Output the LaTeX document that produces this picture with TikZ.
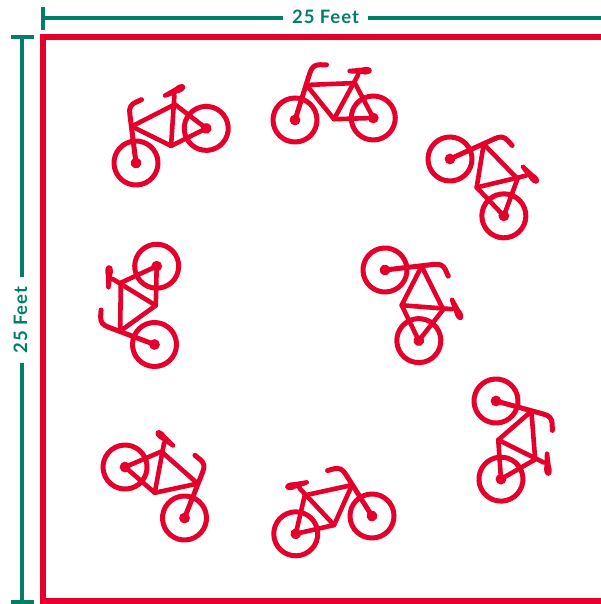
\documentclass[tikz,border=0pt]{standalone}
\usepackage{fontspec}
\setmainfont{Lato}[BoldFeatures={LetterSpace=5}]
\definecolor{bikered}{HTML}{E4002B}
\definecolor{dimgreen}{HTML}{007F66}
\tikzset{
  x=1pt,y=1pt,
  frameline/.style={draw=bikered,line width=5.6pt},
  dimline/.style={draw=dimgreen,line width=4pt},
  dimlabel/.style={text=dimgreen,font=\fontsize{18.5}{19}\selectfont\bfseries,inner sep=0pt},
  wheel/.style={draw=bikered,line width=5pt},
  bikebar/.style={draw=bikered,line width=5pt,line cap=round,line join=round},
  bikeframe/.style={draw=bikered,line width=4.6pt,line cap=round,line join=round},
}
% F hub x,y ; R hub x,y (image pixels); yscale sign
\newcommand{\bikeat}[5]{%
  \pgfmathsetmacro{\bikeang}{atan2(-(#4-#2),#3-#1)}%
  \begin{scope}[shift={(#1,604-#2)},rotate=\bikeang,yscale=#5]
    \draw[wheel] (0,0) circle (22);
    \draw[wheel] (78.3,0) circle (22);
    \fill[bikered] (0,0) circle (5.4);
    \fill[bikered] (78.3,0) circle (5.4);
    \draw[bikebar] (0,0) -- (16,46.4) .. controls (18,52.5) and (21,54.6) .. (26,54.6) -- (32.9,54.4);
    \draw[bikeframe] (12.4,34.7) -- (60.8,35.4) -- (78.3,0) -- (39,-.2) -- cycle;
    \draw[bikeframe] (39,-.2) -- (64.3,43.6);
    \fill[bikered] (53.5,47.6) .. controls (53.5,45.8) and (55,45.2) .. (58,45)
       -- (68,44.2) .. controls (72,42.8) and (78,43.8) .. (78,47.6)
       .. controls (78,51.4) and (72,52) .. (68,50.6) -- (55,49.8)
       .. controls (54,49.6) and (53.5,48.8) .. (53.5,47.6) -- cycle;
  \end{scope}}
\begin{document}
\begin{tikzpicture}
  \useasboundingbox (0,0) rectangle (601,604);
  % frame
  \draw[frameline] (601,2.8) -- (42.7,2.8) -- (42.7,567) -- (601,567);
  % horizontal dimension
  \node[dimlabel] (toplabel) at (325.5,587.5) {25 Feet};
  \coordinate (hl) at (43,586);
  \coordinate (hr) at (601,586);
  \coordinate (hgapl) at (283,586);
  \coordinate (hgapr) at (368,586);
  \draw[dimline] (hl) -- (hgapl);
  \draw[dimline] (hgapr) -- (hr);
  \coordinate (htt) at (43,597);
  \coordinate (htb) at (43,574);
  \draw[dimline] (htt) -- (htb);
  % vertical dimension
  \node[dimlabel,rotate=90] (leftlabel) at (20.5,284) {25 Feet};
  \coordinate (vt) at (22,567);
  \coordinate (vb) at (22,2);
  \coordinate (vgapt) at (22,327);
  \coordinate (vgapb) at (22,241);
  \draw[dimline] (vt) -- (vgapt);
  \draw[dimline] (vgapb) -- (vb);
  \coordinate (vtl) at (11,567);
  \coordinate (vtr) at (34,567);
  \coordinate (vbl) at (11,2);
  \coordinate (vbr) at (34,2);
  \draw[dimline] (vtl) -- (vtr);
  \draw[dimline] (vbl) -- (vbr);
  % bikes
  \bikeat{295}{120}{373}{118}{1}
  \bikeat{136}{163}{207}{128}{1}
  \bikeat{450}{159}{504}{216}{1}
  \bikeat{385}{270}{419}{341}{1}
  \bikeat{496}{401}{501}{480}{1}
  \bikeat{372}{516}{295}{534}{-1}
  \bikeat{184.5}{518}{125}{467}{-1}
  \bikeat{154.5}{344.5}{156.7}{266}{1}
\end{tikzpicture}
\end{document}
